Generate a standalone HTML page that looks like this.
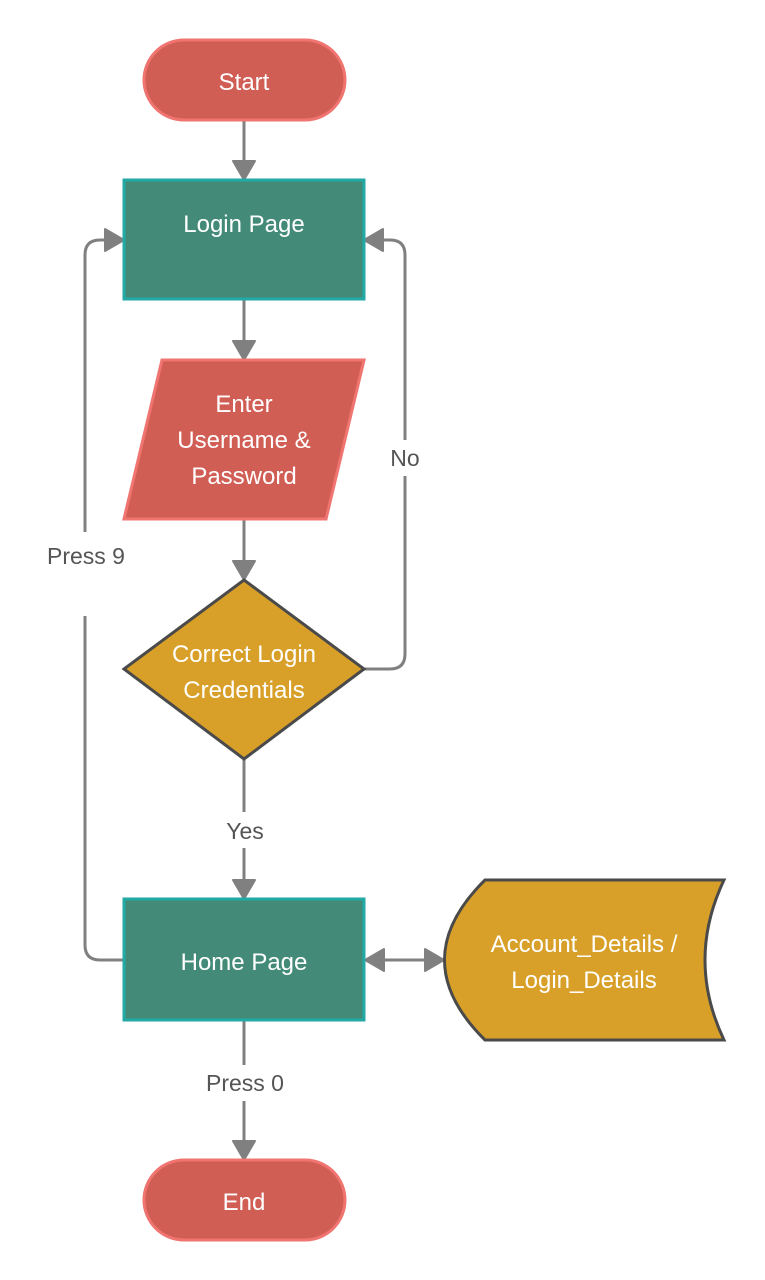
<!DOCTYPE html>
<html><head><style>body{margin:0;background:#fff}svg{display:block}</style></head><body>
<svg width="765" height="1280" viewBox="0 0 765 1280" xmlns="http://www.w3.org/2000/svg" font-family="Liberation Sans, sans-serif">
<defs><marker id="a" markerWidth="22" markerHeight="26" refX="19" refY="13" orient="auto" markerUnits="userSpaceOnUse"><path d="M1,2 L20,13 L1,24 Z" fill="#808080" stroke="#808080" stroke-width="2" stroke-linejoin="round"/></marker>
<marker id="b" markerWidth="22" markerHeight="26" refX="3" refY="13" orient="auto" markerUnits="userSpaceOnUse"><path d="M21,2 L2,13 L21,24 Z" fill="#808080" stroke="#808080" stroke-width="2" stroke-linejoin="round"/></marker></defs>
<g stroke="#808080" stroke-width="3" fill="none">
<path d="M244,121 V179" marker-end="url(#a)"/>
<path d="M244,300 V359" marker-end="url(#a)"/>
<path d="M244,520 V579" marker-end="url(#a)"/>
<path d="M244,760 V898" marker-end="url(#a)"/>
<path d="M244,1021 V1159" marker-end="url(#a)"/>
<path d="M124,960 H100 Q85,960 85,945 V255 Q85,240 100,240 H123" marker-end="url(#a)"/>
<path d="M364,669 H390 Q405,669 405,654 V255 Q405,240 390,240 H365" marker-end="url(#a)"/>
<path d="M366,960 H443" marker-start="url(#b)" marker-end="url(#a)"/>
</g>
<g fill="#fff"><rect x="30" y="532" width="110" height="84"/><rect x="380" y="440" width="50" height="36"/><rect x="215" y="812" width="60" height="36"/><rect x="190" y="1065" width="110" height="36"/></g>
<rect x="144" y="40" width="201" height="80" rx="40" fill="#d15e55" stroke="#f07470" stroke-width="3"/>
<rect x="124" y="180" width="240" height="119" fill="#438b78" stroke="#22aaa6" stroke-width="3"/>
<path d="M162,360 H364 L326,519 H124 Z" fill="#d15e55" stroke="#f07470" stroke-width="3"/>
<path d="M244,580 L364,669 L244,759 L124,669 Z" fill="#d8a028" stroke="#4a4a4a" stroke-width="3"/>
<rect x="124" y="899" width="240" height="121" fill="#438b78" stroke="#22aaa6" stroke-width="3"/>
<path d="M485,880 H724 Q686,960 724,1040 H485 Q404,960 485,880 Z" fill="#d8a028" stroke="#4a4a4a" stroke-width="3"/>
<rect x="144" y="1160" width="201" height="80" rx="40" fill="#d15e55" stroke="#f07470" stroke-width="3"/>
<g fill="#fff" font-size="24" text-anchor="middle">
<text x="244" y="90">Start</text>
<text x="244" y="232">Login Page</text>
<text x="244" y="412">Enter</text><text x="244" y="448">Username &amp;</text><text x="244" y="484">Password</text>
<text x="244" y="662">Correct Login</text><text x="244" y="698">Credentials</text>
<text x="244" y="970">Home Page</text>
<text x="584" y="952">Account_Details /</text><text x="584" y="988">Login_Details</text>
<text x="244" y="1210">End</text>
</g>
<g fill="#555" font-size="23" text-anchor="middle">
<text x="86" y="564">Press 9</text>
<text x="405" y="466">No</text>
<text x="245" y="839">Yes</text>
<text x="245" y="1091">Press 0</text>
</g>
</svg>
</body></html>
